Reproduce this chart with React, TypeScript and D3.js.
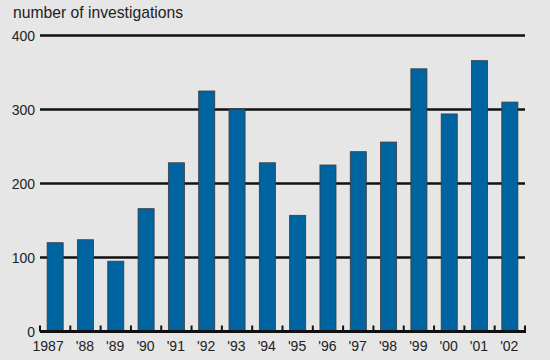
import React from "react";
import * as d3 from "d3";

const years = ["1987", "'88", "'89", "'90", "'91", "'92", "'93", "'94", "'95", "'96", "'97", "'98", "'99", "'00", "'01", "'02"];
const investigations = [120, 124, 95, 166, 228, 325, 300, 228, 157, 225, 243, 256, 355, 294, 366, 310];
const yTicks = [0, 100, 200, 300, 400];
const title = "number of investigations";

const W = 550, H = 360;
const left = 40, right = 525, top = 35.5, bottom = 331.5;

export default function App() {
  const x = d3.scaleBand<string>().domain(years).range([left, right]).paddingInner(0.47).paddingOuter(0.235);
  const band = d3.scaleBand<string>().domain(years).range([left, right]).padding(0);
  const y = d3.scaleLinear().domain([0, 400]).range([bottom, top]);
  const font = "'Liberation Sans', Arial, Helvetica, sans-serif";
  const boundaries = years.map((d) => band(d)!).concat([right]);
  return (
    <svg width={W} height={H} style={{ position: "absolute", left: 0, top: 0 }} fontFamily={font}>
      <rect x={0} y={0} width={W} height={H} fill="#e6e6e6" />
      <text x={13} y={17.5} fontSize={15.7} fill="#222">{title}</text>
      {yTicks.filter((t) => t > 0).map((t) => (
        <line key={t} x1={left} x2={right} y1={y(t)} y2={y(t)} stroke="#111" strokeWidth={2.5} />
      ))}
      {yTicks.map((t) => (
        <text key={"l" + t} x={35} y={y(t)} dy="0.36em" textAnchor="end" fontSize={14} fill="#222">{t}</text>
      ))}
      {years.map((d, i) => (
        <rect key={d} x={x(d)!} y={y(investigations[i])} width={x.bandwidth()} height={y(0) - y(investigations[i])}
          fill="#0064a1" stroke="#3a3a3a" strokeWidth={0.8} />
      ))}
      <line x1={left} x2={right + 1} y1={y(0)} y2={y(0)} stroke="#111" strokeWidth={3} />
      {boundaries.map((bx, i) => (
        <line key={"t" + i} x1={bx} x2={bx} y1={y(0)} y2={y(0) - 6} stroke="#111" strokeWidth={2} />
      ))}
      {years.map((d) => (
        <text key={"x" + d} x={x(d)! + x.bandwidth() + 0.5} y={351} textAnchor="end" fontSize={14} fill="#222">{d}</text>
      ))}
    </svg>
  );
}
